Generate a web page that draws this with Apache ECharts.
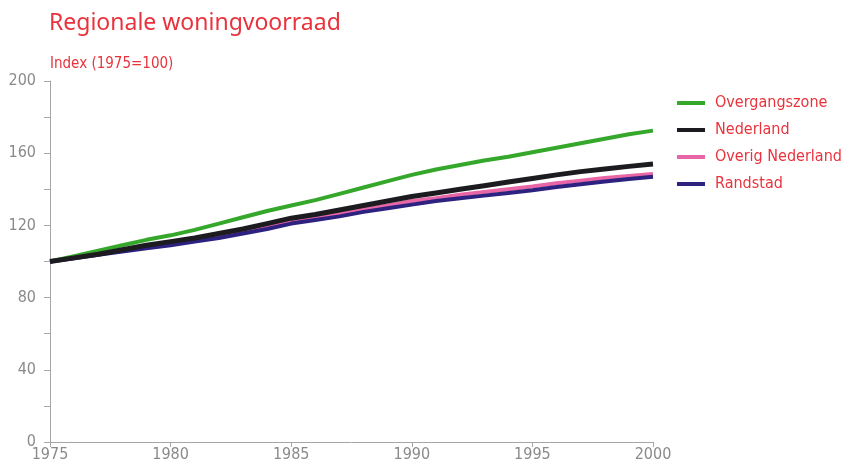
<!DOCTYPE html>
<html>
<head>
	<meta charset="utf-8">
	<title>Regionale woningvoorraad</title>
	<script src="https://cdn.jsdelivr.net/npm/echarts@6/dist/echarts.min.js"></script>
	<style type="text/css">
		html, body { height: 100%; margin: 0; background: #fff; }
	</style>
</head>
<body>
	<div id="main" style="width: 841px;height:464px;"></div>
	<script type="text/javascript">
	// jaren (x-as)
	var years = [1975, 1976, 1977, 1978, 1979, 1980, 1981, 1982, 1983, 1984, 1985, 1986, 1987,
		1988, 1989, 1990, 1991, 1992, 1993, 1994, 1995, 1996, 1997, 1998, 1999, 2000];

	// index 1975=100
	var overgangszone = [100, 103, 106, 109, 112, 114.5, 117.5, 121, 124.5, 128, 131, 134, 137.5,
		141, 144.5, 148, 151, 153.5, 156, 158, 160.5, 163, 165.5, 168, 170.5, 172.5];
	var nederland = [100, 102, 104, 106.5, 109, 111, 113, 115.5, 118, 121, 124, 126, 128.5,
		131, 133.5, 136, 138, 140, 142, 144, 146, 148, 149.8, 151.3, 152.7, 154];
	var overigNederland = [100, 102, 104, 106, 108, 110, 112, 114, 116.5, 119, 122, 124.5, 126.5,
		129, 131, 133.5, 135, 137, 138.5, 140, 141.5, 143.3, 144.8, 146.2, 147.4, 148.5];
	var randstad = [100, 101.8, 103.7, 105.5, 107.3, 109, 111, 113, 115.5, 118, 121, 123, 125,
		127.5, 129.5, 131.5, 133.5, 135, 136.5, 138, 139.5, 141.3, 142.8, 144.3, 145.7, 147];

	var yLabels = [0, 40, 80, 120, 160, 200];

	function pairs(vals) {
		var list = [];
		for (var i = 0; i < years.length; i++) {
			list.push([years[i], vals[i]]);
		}
		return list;
	}

	var red = '#e8333c';
	var grey = '#8a8a8a';
	var font = 'Noto Sans';
	var narrow = "'Liberation Sans Narrow', 'DejaVu Sans Condensed', 'Noto Sans'";

	function line(name, vals, color, width, z) {
		return {
			name: name,
			type: 'line',
			data: pairs(vals),
			showSymbol: false,
			smooth: false,
			z: z,
			lineStyle: { width: width, color: color },
			itemStyle: { color: color },
			emphasis: { disabled: true }
		};
	}

	var myChart = echarts.init(document.getElementById('main'), null, { renderer: 'canvas' });
	var option = {
		animation: false,
		backgroundColor: '#fff',
		title: [{
			text: 'Regionale woningvoorraad',
			left: 44, top: 7,
			textStyle: { color: red, fontFamily: font, fontSize: 23, fontWeight: 'normal' }
		}, {
			text: 'Index (1975=100)',
			left: 45, top: 52,
			textStyle: { color: red, fontFamily: narrow, fontSize: 15, fontWeight: 'normal' }
		}],
		legend: {
			orient: 'vertical',
			left: 672, top: 89,
			icon: 'rect',
			itemWidth: 28, itemHeight: 4,
			itemGap: 9,
			textStyle: { color: red, fontFamily: narrow, fontSize: 16, lineHeight: 18, padding: [0, 0, 0, 5] },
			data: ['Overgangszone', 'Nederland', 'Overig Nederland', 'Randstad']
		},
		grid: { left: 50, right: 188, top: 81, bottom: 22, containLabel: false },
		xAxis: {
			type: 'value',
			min: 1975, max: 2000, interval: 5,
			axisLine: { lineStyle: { color: '#a6a6a6', width: 1 } },
			axisTick: { show: true, length: 5, lineStyle: { color: '#a6a6a6' } },
			axisLabel: {
				color: grey, fontFamily: narrow, fontSize: 16, margin: 5,
				formatter: function (v) { return String(v); }
			},
			splitLine: { show: false }
		},
		yAxis: {
			type: 'value',
			min: 0, max: 200, interval: 20,
			axisLine: { show: true, lineStyle: { color: '#a6a6a6', width: 1 } },
			axisTick: { show: true, length: 6, lineStyle: { color: '#a6a6a6' } },
			axisLabel: {
				color: grey, fontFamily: narrow, fontSize: 16, margin: 14,
				formatter: function (v) { return yLabels.indexOf(v) >= 0 ? String(v) : ''; }
			},
			splitLine: { show: false }
		},
		series: [
			line('Overgangszone', overgangszone, '#35a82c', 4, 2),
			line('Nederland', nederland, '#1c1b20', 5, 5),
			line('Overig Nederland', overigNederland, '#e866a6', 4, 3),
			line('Randstad', randstad, '#2d2280', 4, 4)
		]
	};
	myChart.setOption(option);
	</script>
</body>
</html>
